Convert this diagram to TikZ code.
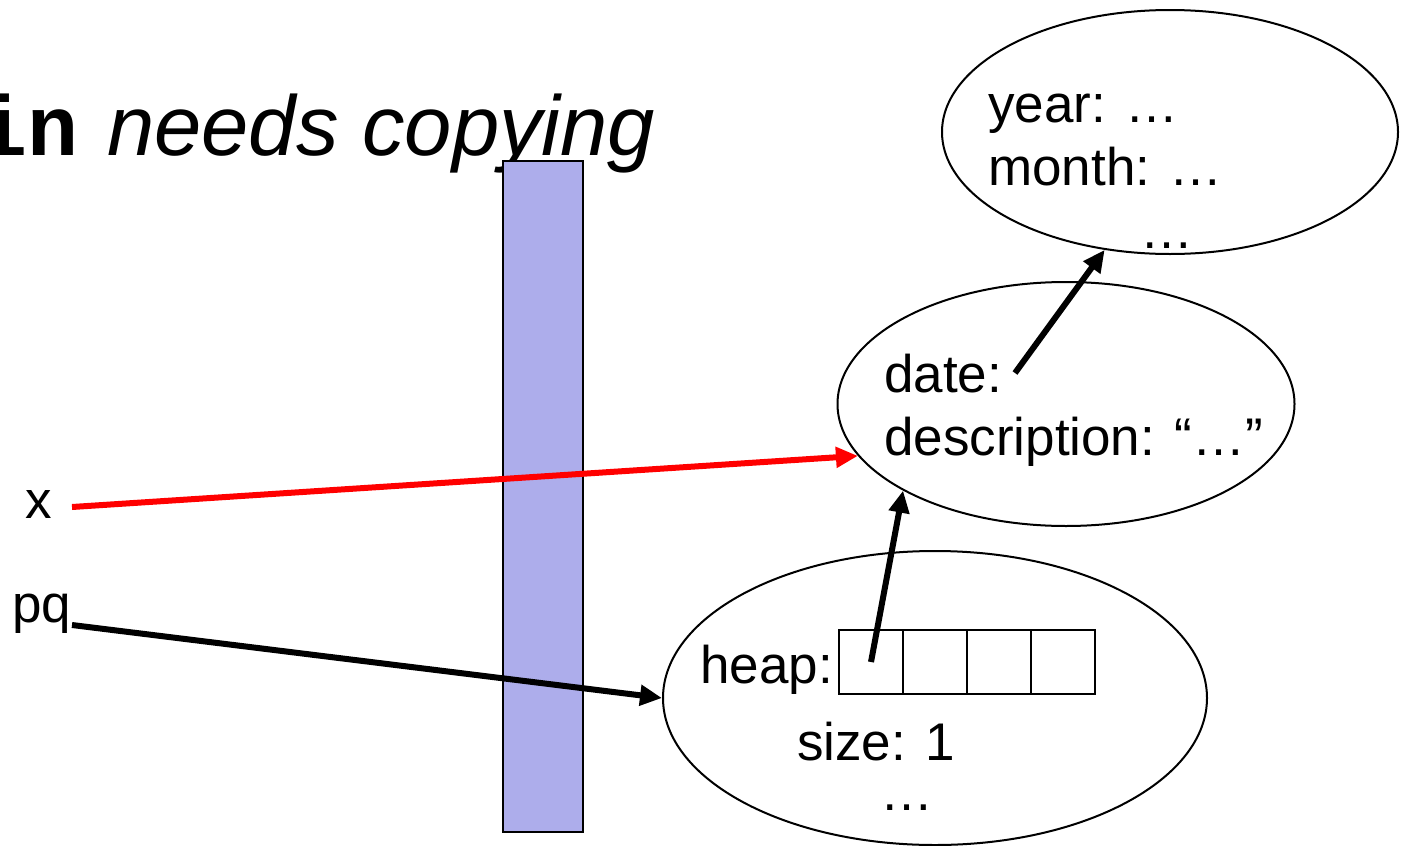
\documentclass[tikz,border=0pt]{standalone}
\usepackage{fontspec}
\setmainfont{Liberation Sans}
\newfontfamily\monob{Liberation Mono}
\usetikzlibrary{shapes.geometric,arrows.meta}
\definecolor{barblue}{RGB}{173,173,235}
\begin{document}
\begin{tikzpicture}[x=1pt,y=-1pt,
  txt/.style={font=\fontsize{53}{64}\selectfont, inner sep=0pt, anchor=base west},
  blob/.style={ellipse, draw, line width=2pt, inner sep=0pt},
  ptr/.style={line width=6pt, -{Triangle[length=22pt,width=20pt]}},
  cell/.style={draw, line width=2pt, minimum width=64pt, minimum height=64pt, inner sep=0pt}]
\useasboundingbox (0,0) rectangle (1406,846);
% title
\node[anchor=base west, inner sep=0pt, font=\fontsize{85}{100}\selectfont\itshape] (title) at (107,155) {needs copying};
\node[anchor=base east, inner sep=0pt, font=\monob\bfseries\fontsize{85}{100}\selectfont] (kw) at (79,155) {in};
% bar
\node[draw, fill=barblue, line width=2pt, minimum width=80pt, minimum height=671pt, inner sep=0pt] (bar) at (543,496.5) {};
% ellipses
\node[blob, minimum width=456pt, minimum height=244pt] (top) at (1170,132) {};
\node[blob, minimum width=457pt, minimum height=244pt] (mid) at (1066,404) {};
\node[blob, minimum width=544pt, minimum height=294pt] (heapell) at (935,698) {};
% texts
\node[txt] (year) at (988,122) {year: …};
\node[txt] (month) at (988,185) {month: …};
\node[txt] (tdots) at (1140,248) {…};
\node[txt] (date) at (884,392) {date:};
\node[txt] (desc) at (884,455) {description: “…”};
\node[txt] (heap) at (700,683) {heap:};
\node[txt] (size) at (797,760) {size: 1};
\node[txt] (bdots) at (880,810) {…};
\node[txt] (xlab) at (25,518) {x};
\node[txt] (pqlab) at (12,622) {pq};
% heap cells
\node[cell] (c1) at (871,662) {};
\node[cell] (c2) at (935,662) {};
\node[cell] (c3) at (999,662) {};
\node[cell] (c4) at (1063,662) {};
% pointer starts
\coordinate (xs) at (72,507);
\coordinate (pqs) at (72,625);
\coordinate (ds) at (1015,373);
% arrows
\draw[ptr, red] (xs) -- (mid.194);
\draw[ptr] (pqs) -- (heapell.west);
\draw[ptr] (c1.center) -- (mid.208);
\draw[ptr] (ds) -- (top.241);
\end{tikzpicture}
\end{document}
